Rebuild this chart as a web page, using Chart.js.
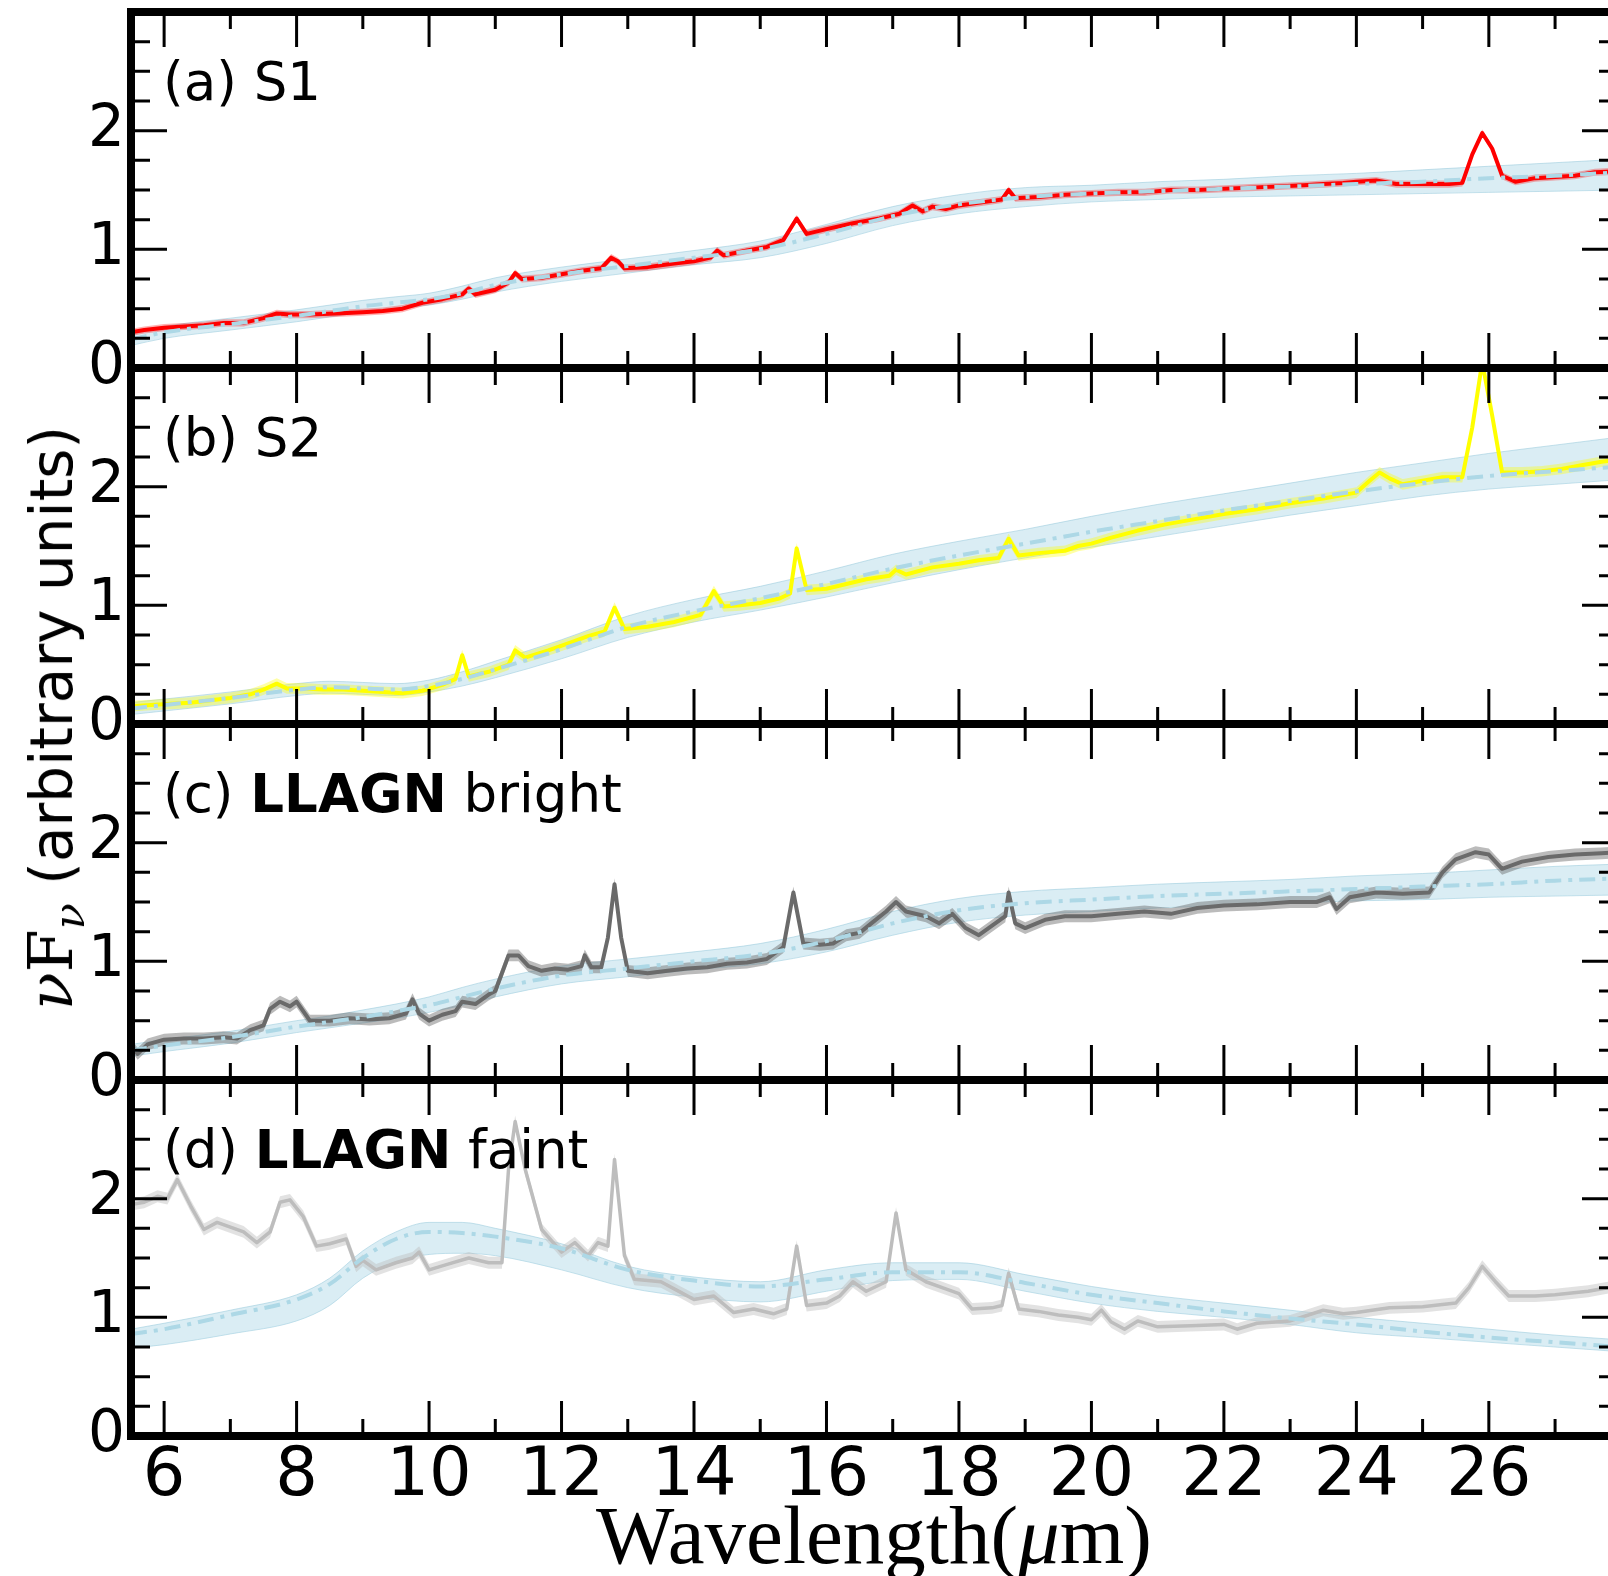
<!DOCTYPE html>
<html>
<head>
<meta charset="utf-8">
<script src="https://cdn.jsdelivr.net/npm/chart.js@4.4.1/dist/chart.umd.min.js"></script>
<style>
  html, body { margin: 0; padding: 0; background: #fff; overflow: hidden; }
  #fig { position: relative; width: 1608px; height: 1576px; overflow: hidden; background: #fff; }
  #fig canvas { position: absolute; left: 0; }
  #ytitle {
    position: absolute; left: 51px; top: 718px; white-space: nowrap;
    font: 58px "DejaVu Sans"; line-height: 1; color: #000;
    transform: translate(-50%, -50%) rotate(-90deg);
  }
  #ytitle .cm { font-family: "DejaVu Serif"; font-size: 62px; }
  #ytitle sub { font-size: 43px; line-height: 0; vertical-align: -12px; }
  #xtitle {
    position: absolute; left: 874px; top: 1494px; white-space: nowrap;
    font: 83px "Liberation Serif"; line-height: 1; color: #000;
    transform: translateX(-50%);
  }
</style>
</head>
<body>
<div id="fig">
  <canvas id="pa" width="1680" height="436" style="top:-28px"></canvas>
  <canvas id="pb" width="1680" height="436" style="top:328px"></canvas>
  <canvas id="pc" width="1680" height="436" style="top:684px"></canvas>
  <canvas id="pd" width="1680" height="536" style="top:1040px"></canvas>
  <div id="ytitle"><span class="cm"><i>ν</i>F<sub><i>ν</i></sub></span> (arbitrary units)</div>
  <div id="xtitle">Wavelength(<i>μ</i>m)</div>
</div>

<script>
// axis ticks
const xMajor = [6, 8, 10, 12, 14, 16, 18, 20, 22, 24, 26];
const xMinor = [7, 9, 11, 13, 15, 17, 19, 21, 23, 25, 27];
const yMajor = [0, 1, 2, 3];
const yMinor = [0.25, 0.5, 0.75, 1.25, 1.5, 1.75, 2.25, 2.5, 2.75];

// wavelength grid of the template fits (um)
const modelX = [5.5, 6, 7, 8, 8.5, 9, 9.5, 10, 10.5, 11, 12, 13, 14, 15, 16, 17, 18, 19, 20, 21, 22, 23, 24, 25, 26, 27, 28];

// (a) S1
const s1Model = [0.24, 0.30, 0.37, 0.44, 0.48, 0.52, 0.55, 0.58, 0.63, 0.70, 0.79, 0.86, 0.93, 1.00, 1.13, 1.28, 1.38, 1.44, 1.47, 1.49, 1.51, 1.53, 1.55, 1.57, 1.60, 1.62, 1.65];
const s1Lo    = [0.19, 0.25, 0.32, 0.39, 0.43, 0.47, 0.50, 0.53, 0.58, 0.64, 0.73, 0.80, 0.87, 0.93, 1.05, 1.20, 1.30, 1.36, 1.40, 1.42, 1.44, 1.45, 1.46, 1.47, 1.48, 1.49, 1.50];
const s1Hi    = [0.29, 0.35, 0.42, 0.49, 0.53, 0.57, 0.60, 0.63, 0.69, 0.76, 0.85, 0.92, 0.99, 1.07, 1.21, 1.36, 1.46, 1.52, 1.54, 1.57, 1.59, 1.62, 1.64, 1.67, 1.70, 1.73, 1.76];
const s1X = [5.5, 5.7, 6.0, 6.3, 6.6, 6.9, 7.2, 7.5, 7.7, 7.9, 8.2, 8.6, 9.0, 9.3, 9.6, 9.9, 10.2, 10.5, 10.6, 10.7, 11.0, 11.2, 11.3, 11.4, 11.7, 12.0, 12.3, 12.6, 12.75, 12.85, 12.95, 13.3, 13.7, 14.0, 14.25, 14.35, 14.45, 14.8, 15.1, 15.35, 15.55, 15.7, 16.0, 16.4, 16.8, 17.1, 17.3, 17.45, 17.6, 17.8, 18.0, 18.4, 18.65, 18.75, 18.85, 19.2, 19.6, 20.0, 20.4, 20.8, 21.2, 21.6, 22.0, 22.4, 22.8, 23.2, 23.5, 23.8, 24.0, 24.3, 24.6, 25.0, 25.4, 25.6, 25.75, 25.9, 26.05, 26.2, 26.4, 26.7, 27.0, 27.3, 27.6, 28.0];
const s1Flux = [0.30, 0.32, 0.34, 0.35, 0.36, 0.38, 0.38, 0.42, 0.46, 0.45, 0.45, 0.46, 0.47, 0.48, 0.50, 0.55, 0.58, 0.62, 0.67, 0.62, 0.66, 0.72, 0.80, 0.75, 0.76, 0.79, 0.82, 0.84, 0.93, 0.90, 0.84, 0.85, 0.88, 0.90, 0.93, 0.99, 0.95, 0.99, 1.02, 1.08, 1.26, 1.13, 1.17, 1.22, 1.26, 1.30, 1.37, 1.32, 1.36, 1.34, 1.37, 1.40, 1.42, 1.50, 1.43, 1.44, 1.46, 1.47, 1.48, 1.48, 1.50, 1.50, 1.51, 1.52, 1.53, 1.54, 1.55, 1.56, 1.57, 1.58, 1.55, 1.55, 1.55, 1.56, 1.80, 1.98, 1.85, 1.62, 1.57, 1.60, 1.61, 1.62, 1.65, 1.66];
const s1Err = 0.03;

// (b) S2
const s2Model = [0.13, 0.16, 0.22, 0.29, 0.31, 0.30, 0.29, 0.32, 0.38, 0.46, 0.63, 0.82, 0.95, 1.06, 1.18, 1.31, 1.42, 1.52, 1.62, 1.71, 1.80, 1.88, 1.96, 2.03, 2.09, 2.13, 2.17];
const s2Lo    = [0.08, 0.11, 0.17, 0.24, 0.26, 0.25, 0.24, 0.27, 0.32, 0.39, 0.55, 0.73, 0.86, 0.96, 1.07, 1.19, 1.30, 1.40, 1.49, 1.58, 1.67, 1.76, 1.84, 1.92, 1.98, 2.02, 2.06];
const s2Hi    = [0.18, 0.21, 0.27, 0.34, 0.36, 0.35, 0.34, 0.37, 0.44, 0.53, 0.71, 0.91, 1.05, 1.16, 1.29, 1.43, 1.54, 1.64, 1.75, 1.85, 1.94, 2.03, 2.12, 2.20, 2.28, 2.35, 2.42];
const s2X = [5.5, 5.8, 6.1, 6.4, 6.7, 7.0, 7.3, 7.5, 7.7, 7.85, 8.1, 8.4, 8.7, 9.0, 9.3, 9.6, 9.9, 10.2, 10.4, 10.5, 10.6, 10.9, 11.2, 11.3, 11.45, 11.8, 12.1, 12.4, 12.65, 12.8, 12.95, 13.3, 13.7, 14.1, 14.3, 14.45, 14.7, 15.0, 15.3, 15.45, 15.55, 15.7, 16.0, 16.3, 16.6, 16.95, 17.05, 17.2, 17.6, 18.0, 18.3, 18.6, 18.75, 18.9, 19.2, 19.6, 19.8, 20.0, 20.3, 20.7, 21.1, 21.5, 22.0, 22.5, 23.0, 23.5, 24.0, 24.2, 24.35, 24.5, 24.7, 25.0, 25.3, 25.6, 25.75, 25.9, 26.05, 26.2, 26.5, 26.8, 27.1, 27.4, 27.7, 28.0];
const s2Flux = [0.15, 0.16, 0.17, 0.18, 0.20, 0.22, 0.25, 0.29, 0.34, 0.30, 0.30, 0.29, 0.29, 0.28, 0.27, 0.26, 0.28, 0.33, 0.38, 0.58, 0.40, 0.44, 0.50, 0.62, 0.56, 0.62, 0.68, 0.74, 0.78, 0.98, 0.80, 0.82, 0.86, 0.92, 1.12, 0.99, 1.00, 1.02, 1.06, 1.10, 1.48, 1.13, 1.14, 1.18, 1.22, 1.25, 1.30, 1.26, 1.32, 1.35, 1.38, 1.40, 1.56, 1.42, 1.44, 1.46, 1.50, 1.52, 1.57, 1.63, 1.68, 1.72, 1.77, 1.81, 1.86, 1.90, 1.95, 2.05, 2.12, 2.07, 2.02, 2.05, 2.08, 2.08, 2.50, 3.05, 2.60, 2.12, 2.12, 2.13, 2.15, 2.18, 2.21, 2.23];
const s2Err = 0.045;

// (c) LLAGN bright
const brModel = [0.25, 0.29, 0.36, 0.45, 0.49, 0.53, 0.58, 0.63, 0.70, 0.77, 0.88, 0.94, 1.00, 1.06, 1.17, 1.32, 1.43, 1.49, 1.52, 1.55, 1.57, 1.59, 1.61, 1.63, 1.65, 1.68, 1.70];
const brLo    = [0.20, 0.24, 0.31, 0.40, 0.44, 0.48, 0.52, 0.57, 0.63, 0.70, 0.81, 0.87, 0.93, 0.98, 1.08, 1.22, 1.33, 1.39, 1.42, 1.45, 1.47, 1.49, 1.51, 1.52, 1.54, 1.55, 1.56];
const brHi    = [0.30, 0.34, 0.41, 0.50, 0.54, 0.59, 0.64, 0.70, 0.78, 0.85, 0.96, 1.02, 1.08, 1.15, 1.27, 1.42, 1.53, 1.59, 1.62, 1.65, 1.67, 1.69, 1.72, 1.74, 1.77, 1.80, 1.82];
const brX = [5.5, 5.6, 5.75, 6.0, 6.3, 6.6, 6.9, 7.1, 7.3, 7.5, 7.6, 7.75, 7.9, 8.0, 8.1, 8.2, 8.5, 8.8, 9.1, 9.4, 9.65, 9.75, 9.85, 10.0, 10.2, 10.4, 10.5, 10.7, 10.9, 11.0, 11.2, 11.35, 11.5, 11.7, 11.9, 12.1, 12.3, 12.35, 12.45, 12.6, 12.7, 12.8, 12.9, 13.0, 13.3, 13.6, 13.9, 14.2, 14.5, 14.8, 15.1, 15.35, 15.5, 15.65, 15.9, 16.1, 16.3, 16.5, 16.7, 16.9, 17.05, 17.2, 17.5, 17.7, 17.9, 18.1, 18.3, 18.5, 18.7, 18.75, 18.85, 19.0, 19.3, 19.6, 20.0, 20.4, 20.8, 21.2, 21.6, 22.0, 22.5, 23.0, 23.4, 23.6, 23.7, 23.9, 24.3, 24.7, 25.1, 25.3, 25.5, 25.8, 26.0, 26.2, 26.5, 26.9, 27.3, 27.7, 28.0];
const brFlux = [0.30, 0.22, 0.30, 0.34, 0.35, 0.35, 0.36, 0.35, 0.42, 0.46, 0.60, 0.66, 0.62, 0.66, 0.58, 0.50, 0.50, 0.52, 0.51, 0.52, 0.56, 0.68, 0.56, 0.50, 0.55, 0.58, 0.66, 0.64, 0.72, 0.75, 1.05, 1.05, 0.96, 0.92, 0.94, 0.93, 0.96, 1.05, 0.95, 0.95, 1.20, 1.65, 1.20, 0.92, 0.90, 0.92, 0.94, 0.95, 0.98, 0.99, 1.02, 1.12, 1.58, 1.15, 1.14, 1.15, 1.22, 1.24, 1.33, 1.42, 1.50, 1.42, 1.38, 1.32, 1.40, 1.28, 1.22, 1.30, 1.38, 1.58, 1.32, 1.28, 1.35, 1.38, 1.38, 1.40, 1.42, 1.40, 1.45, 1.47, 1.48, 1.50, 1.50, 1.54, 1.44, 1.54, 1.58, 1.57, 1.58, 1.75, 1.86, 1.92, 1.90, 1.78, 1.84, 1.88, 1.90, 1.91, 1.92];
const brErr = 0.05;

// (d) LLAGN faint
const fnModel = [0.86, 0.90, 1.02, 1.15, 1.28, 1.50, 1.66, 1.72, 1.71, 1.68, 1.58, 1.40, 1.31, 1.26, 1.32, 1.38, 1.38, 1.29, 1.19, 1.12, 1.05, 0.99, 0.94, 0.88, 0.83, 0.79, 0.75];
const fnLo    = [0.74, 0.77, 0.86, 0.97, 1.10, 1.33, 1.47, 1.53, 1.54, 1.52, 1.40, 1.25, 1.17, 1.13, 1.22, 1.31, 1.32, 1.22, 1.12, 1.05, 1.00, 0.94, 0.87, 0.83, 0.79, 0.75, 0.71];
const fnHi    = [0.90, 0.95, 1.06, 1.19, 1.33, 1.56, 1.72, 1.80, 1.80, 1.75, 1.62, 1.43, 1.34, 1.30, 1.40, 1.46, 1.46, 1.36, 1.26, 1.18, 1.12, 1.06, 1.00, 0.95, 0.90, 0.85, 0.81];
const fnX = [5.5, 5.7, 5.9, 6.05, 6.2, 6.4, 6.6, 6.8, 7.0, 7.2, 7.4, 7.6, 7.75, 7.9, 8.1, 8.3, 8.5, 8.75, 8.9, 9.0, 9.2, 9.5, 9.75, 9.85, 10.0, 10.3, 10.6, 10.9, 11.1, 11.2, 11.3, 11.45, 11.7, 12.0, 12.2, 12.4, 12.55, 12.7, 12.8, 12.95, 13.1, 13.5, 13.8, 14.0, 14.3, 14.6, 14.9, 15.2, 15.4, 15.55, 15.7, 16.0, 16.2, 16.4, 16.6, 16.9, 17.05, 17.2, 17.5, 17.8, 18.0, 18.2, 18.5, 18.65, 18.75, 18.9, 19.2, 19.5, 19.8, 20.0, 20.15, 20.3, 20.5, 20.7, 21.0, 21.5, 22.0, 22.2, 22.5, 23.0, 23.5, 23.8, 24.0, 24.5, 25.0, 25.5, 25.7, 25.9, 26.1, 26.3, 26.7, 27.0, 27.5, 28.0];
const fnFlux = [1.95, 1.97, 2.02, 2.00, 2.16, 1.94, 1.74, 1.80, 1.76, 1.72, 1.63, 1.72, 1.97, 1.99, 1.85, 1.60, 1.62, 1.66, 1.43, 1.48, 1.40, 1.46, 1.50, 1.55, 1.40, 1.45, 1.50, 1.46, 1.46, 2.25, 2.65, 2.25, 1.74, 1.55, 1.63, 1.52, 1.63, 1.60, 2.33, 1.52, 1.32, 1.30, 1.21, 1.15, 1.18, 1.04, 1.07, 1.03, 1.07, 1.60, 1.10, 1.12, 1.18, 1.30, 1.22, 1.30, 1.88, 1.40, 1.30, 1.24, 1.20, 1.07, 1.08, 1.10, 1.37, 1.07, 1.05, 1.02, 1.00, 0.98, 1.06, 0.96, 0.90, 0.97, 0.92, 0.93, 0.94, 0.90, 0.95, 0.97, 1.06, 1.03, 1.04, 1.08, 1.09, 1.12, 1.25, 1.43, 1.30, 1.18, 1.18, 1.19, 1.22, 1.27];
const fnErr = 0.05;

const panelLabels = [
  [['(a) ', false], ['S1', false]],
  [['(b) ', false], ['S2', false]],
  [['(c) ', false], ['LLAGN', true], [' bright', false]],
  [['(d) ', false], ['LLAGN', true], [' faint', false]]
];

Chart.defaults.color = '#000';

const pts = (xs, ys) => xs.map((x, i) => ({x: x, y: ys[i]}));

// inward ticks, thick frame and panel label
const frame = {
  id: 'frame',
  afterDraw(chart, args, opts) {
    const ctx = chart.ctx;
    const a = chart.chartArea;
    const x = chart.scales.x, y = chart.scales.y;
    ctx.save();
    ctx.strokeStyle = '#000';
    ctx.lineWidth = 3;
    ctx.beginPath();
    const xt = (list, len) => list.forEach(v => {
      const px = x.getPixelForValue(v);
      ctx.moveTo(px, a.bottom); ctx.lineTo(px, a.bottom - len);
      ctx.moveTo(px, a.top); ctx.lineTo(px, a.top + len);
    });
    const yt = (list, len) => list.forEach(v => {
      const py = y.getPixelForValue(v);
      ctx.moveTo(a.left, py); ctx.lineTo(a.left + len, py);
      ctx.moveTo(a.right, py); ctx.lineTo(a.right - len, py);
    });
    xt(xMajor, 35); xt(xMinor, 17);
    yt(yMajor, 36); yt(yMinor, 19);
    ctx.stroke();
    ctx.lineWidth = 8;
    ctx.strokeRect(a.left, a.top, a.right - a.left, a.bottom - a.top);

    // panel label
    let tx = a.left + 32;
    const ty = a.top + 88;
    ctx.fillStyle = '#000';
    ctx.textBaseline = 'alphabetic';
    opts.parts.forEach(p => {
      ctx.font = (p[1] ? 'bold ' : '') + '53px "DejaVu Sans"';
      ctx.fillText(p[0], tx, ty);
      tx += ctx.measureText(p[0]).width;
    });
    ctx.restore();
  }
};

function makePanel(id, p) {
  const blueEdge = 'rgba(150,200,218,0.55)';
  const clear = 'rgba(0,0,0,0)';
  new Chart(document.getElementById(id), {
    type: 'line',
    data: {
      datasets: [
        {data: pts(modelX, p.lo), borderColor: blueEdge, borderWidth: 1, fill: false, cubicInterpolationMode: 'monotone', order: 4},
        {data: pts(modelX, p.hi), borderColor: blueEdge, borderWidth: 1, backgroundColor: 'rgba(173,216,230,0.45)', fill: 0, cubicInterpolationMode: 'monotone', order: 3},
        {data: pts(p.x, p.flux.map(v => v - p.err)), borderColor: clear, borderWidth: 1, fill: false, order: 2},
        {data: pts(p.x, p.flux.map(v => v + p.err)), borderColor: clear, borderWidth: 1, backgroundColor: p.band, fill: 2, order: 2},
        {data: pts(p.x, p.flux), borderColor: p.color, borderWidth: p.width, fill: false, order: 1},
        {data: pts(modelX, p.model), borderColor: '#add8e6', borderWidth: 4, borderDash: [16, 7, 4, 7], fill: false, cubicInterpolationMode: 'monotone', order: 0}
      ]
    },
    options: {
      responsive: false,
      animation: false,
      events: [],
      elements: {point: {radius: 0}, line: {borderJoinStyle: 'round', borderCapStyle: 'butt'}},
      layout: {padding: {left: 0, right: 62, top: 40, bottom: p.bottom ? 0 : 40}},
      plugins: {legend: {display: false}, tooltip: {enabled: false}, frame: {parts: p.label}},
      scales: {
        x: {
          type: 'linear', min: 5.5, max: 27.95,
          display: p.bottom,
          grid: {display: false, drawTicks: false}, border: {display: false},
          ticks: {stepSize: 2, includeBounds: false, padding: 8, maxRotation: 0, autoSkip: false,
                  font: {family: 'DejaVu Sans', size: 67, lineHeight: 1},
                  callback: v => xMajor.includes(v) ? String(v) : ''},
          afterFit: s => { s.height = p.bottom ? 140 : 0; }
        },
        y: {
          type: 'linear', min: 0, max: 3,
          grid: {display: false, drawTicks: false}, border: {display: false},
          ticks: {stepSize: 1, padding: 6, font: {family: 'DejaVu Sans', size: 58, lineHeight: 1},
                  callback: v => (yMajor.includes(v) && v < 3) ? String(v) : ''},
          afterFit: s => { s.width = 131; }
        }
      }
    },
    plugins: [frame]
  });
}

makePanel('pa', {x: s1X, flux: s1Flux, err: s1Err, model: s1Model, lo: s1Lo, hi: s1Hi,
  color: '#ff0000', band: 'rgba(255,0,0,0.3)', width: 4, label: panelLabels[0], bottom: false});
makePanel('pb', {x: s2X, flux: s2Flux, err: s2Err, model: s2Model, lo: s2Lo, hi: s2Hi,
  color: '#ffff00', band: 'rgba(255,255,0,0.35)', width: 4, label: panelLabels[1], bottom: false});
makePanel('pc', {x: brX, flux: brFlux, err: brErr, model: brModel, lo: brLo, hi: brHi,
  color: '#6a6a6a', band: 'rgba(105,105,105,0.45)', width: 4, label: panelLabels[2], bottom: false});
makePanel('pd', {x: fnX, flux: fnFlux, err: fnErr, model: fnModel, lo: fnLo, hi: fnHi,
  color: '#bdbdbd', band: 'rgba(190,190,190,0.45)', width: 3.5, label: panelLabels[3], bottom: true});
</script>
</body>
</html>
